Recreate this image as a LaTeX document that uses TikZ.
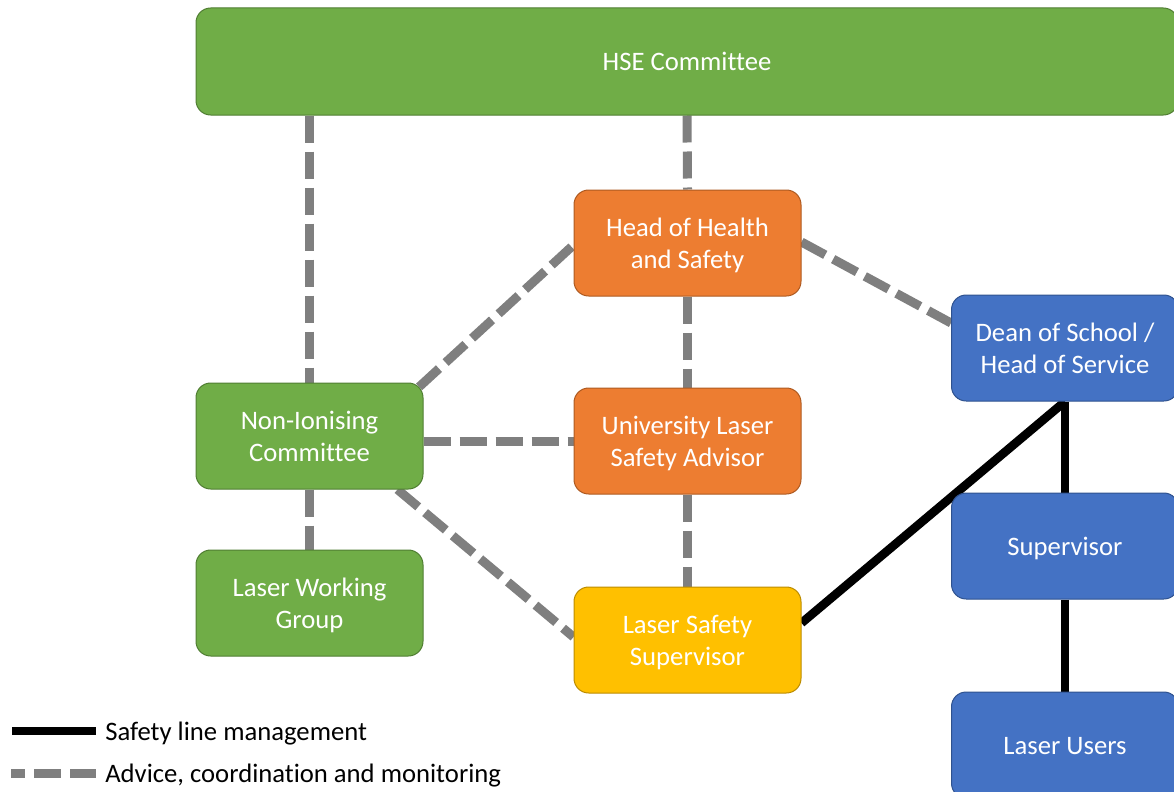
\documentclass[tikz,border=0pt]{standalone}
\usepackage{fontspec}
\setmainfont{Carlito}[Ligatures=NoCommon]
\usetikzlibrary{backgrounds,calc}

\definecolor{grnfill}{HTML}{70AD47}
\definecolor{grnline}{HTML}{507E32}
\definecolor{orgfill}{HTML}{ED7D31}
\definecolor{orgline}{HTML}{AE5A21}
\definecolor{yelfill}{HTML}{FFC000}
\definecolor{yelline}{HTML}{BC8C00}
\definecolor{blufill}{HTML}{4472C4}
\definecolor{bluline}{HTML}{2F528F}
\definecolor{advice}{HTML}{7F7F7F}

% fixed ascent/descent struts so every label sits on the same metrics
\newcommand\lblup{\rule{0pt}{17pt}}
\newcommand\lbldn{\rule[-3.5pt]{0pt}{3.5pt}}

\begin{document}
\begin{tikzpicture}[x=0.75pt,y=-0.75pt,
  box/.style={rounded corners=11pt, draw, line width=0.75pt, text=white,
    align=center, minimum width=170.25pt, minimum height=79.5pt,
    inner sep=0pt, font=\fontsize{20}{24}\selectfont},
  greenbox/.style={box, fill=grnfill, draw=grnline},
  orangebox/.style={box, fill=orgfill, draw=orgline},
  yellowbox/.style={box, fill=yelfill, draw=yelline},
  bluebox/.style={box, fill=blufill, draw=bluline},
  mgmt/.style={draw=black, line width=6.5pt},
  advline/.style={draw=advice, line width=6.75pt, dash pattern=on 20.25pt off 6.75pt},
  legtext/.style={anchor=west, inner sep=0pt, font=\fontsize{20}{24}\selectfont}
]
\useasboundingbox (0,0) rectangle (1174,792);
\clip (0,0) rectangle (1174,792);

% committees and roles
\node[greenbox, minimum width=736.5pt, minimum height=80.25pt] (hse) at (687,61.5) {\lblup HSE Committee\lbldn};
\node[orangebox] (hhs)  at (687.5,243) {\lblup Head of Health\\and Safety\lbldn};
\node[orangebox] (ulsa) at (687.5,441) {\lblup University Laser\\Safety Advisor\lbldn};
\node[yellowbox] (lss)  at (687.5,640) {\lblup Laser Safety\\Supervisor\lbldn};
\node[greenbox]  (nic)  at (309.5,436) {\lblup Non-Ionising\\Committee\lbldn};
\node[greenbox]  (lwg)  at (309.5,603) {\lblup Laser Working\\Group\lbldn};
\node[bluebox]   (dean) at (1065,348) {\lblup Dean of School /\\Head of Service\lbldn};
\node[bluebox]   (sup)  at (1065,546) {\lblup Supervisor\lbldn};
\node[bluebox]   (usr)  at (1065,745) {\lblup Laser Users\lbldn};

% legend
\coordinate (lgA1) at (12,731);
\coordinate (lgA2) at (96,731);
\coordinate (lgB1) at (11,773);
\coordinate (lgB2) at (96,773);
\node[legtext] (lgAt) at (105,731) {\lblup Safety line management\lbldn};
\node[legtext] (lgBt) at (105,773) {\lblup Advice, coordination and monitoring\lbldn};

\begin{scope}[on background layer]
  % advice, coordination and monitoring
  \draw[advline] (hse.south) -- (hhs.north);
  \draw[advline] (nic.north |- hse.south) -- (nic.north);
  \draw[advline] (hhs.south) -- (ulsa.north);
  \draw[advline] (ulsa.south) -- (lss.north);
  \draw[advline] (nic.south) -- (lwg.north);
  \draw[advline] (nic.east |- ulsa.west) -- (ulsa.west);
  \draw[advline] ($(nic.north east)+(-4.4,4.4)$) -- ($(hhs.west)+(0,2)$);
  \draw[advline] ($(nic.south east)+(-26,0)$) -- ($(lss.west)+(0,-3)$);
  \draw[advline] ($(hhs.east)+(0,-1)$) -- ($(dean.west)+(0,-25)$);
  % safety line management
  \draw[mgmt] ($(lss.east)+(0,-17)$) -- (dean.south);
  \draw[mgmt] (dean.south) -- (sup.north);
  \draw[mgmt] (sup.south) -- (usr.north);
\end{scope}

\draw[mgmt] (lgA1) -- (lgA2);
\draw[advline, dash phase=9.75pt] (lgB1) -- (lgB2);
\end{tikzpicture}
\end{document}
